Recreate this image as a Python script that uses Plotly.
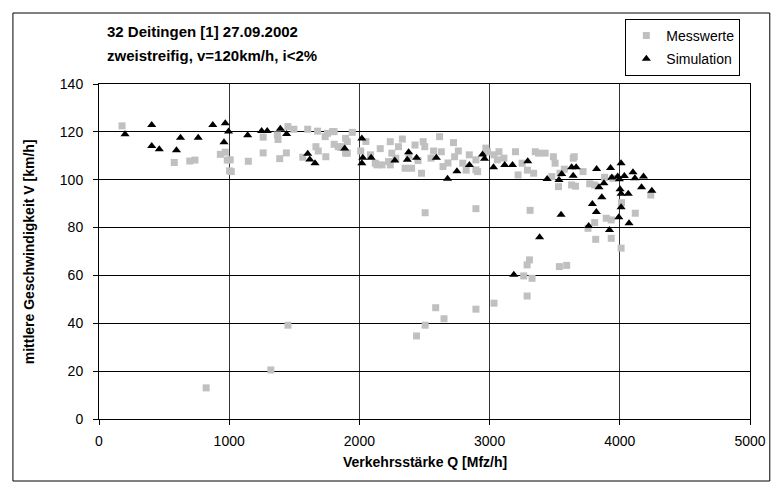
import plotly.graph_objects as go

# Messwerte (measured)
mess_q = [177, 578, 697, 737, 932, 970, 985, 1003, 1008, 1016, 1147, 1261, 1261, 1370, 1375, 1388,
          1439, 1451, 1497, 1565, 1603, 1666, 1679, 1684, 1737, 1742, 1755, 1793, 1806, 1806, 1837,
          1857, 1869, 1894, 1894, 1907, 1907, 1945, 2010, 2050, 2085, 2122, 2135, 2160, 2173, 2224,
          2237, 2237, 2249, 2280, 2300, 2330, 2351, 2380, 2401, 2427, 2450, 2477, 2490, 2502, 2550,
          2570, 2616, 2629, 2642, 2680, 2723, 2731, 2760, 2794, 2820, 2844, 2895, 2895, 2908, 2971,
          2984, 3034, 3060, 3072, 3110, 3199, 3219, 3250, 3290, 3338, 3351, 3376, 3427, 3478, 3490,
          3503, 3529, 3541, 3574, 3630, 3642, 3650, 3660, 3718, 3769, 3807, 3883, 3946, 4013, 4119,
          3896, 3934, 3807, 3756, 3815, 3934, 4010, 4238,
          823, 1320, 1451, 2439, 2505, 2586, 2650, 2895, 3034, 3288, 3262, 3326, 3288, 3306, 3536,
          3592, 2505, 2895, 3311]
mess_v = [122.5, 107.2, 107.8, 108.2, 110.6, 111.5, 108.2, 103.7, 108.3, 103.4, 107.7, 111.2, 117.8,
          118.7, 116.8, 108.8, 111.2, 122.2, 121.1, 109.4, 121.1, 113.8, 120.3, 112.0, 118.0, 109.6,
          119.4, 120.1, 114.8, 120.1, 113.8, 113.5, 113.8, 117.3, 111.1, 115.9, 111.1, 119.8, 112.0,
          116.0, 110.4, 106.9, 106.2, 113.0, 106.2, 107.6, 115.9, 106.2, 111.1, 109.0, 113.8, 117.0,
          104.8, 110.0, 104.8, 114.5, 108.0, 102.7, 115.9, 113.8, 109.0, 112.0, 118.0, 111.7, 105.5,
          107.0, 115.5, 109.6, 112.0, 106.9, 104.0, 110.4, 108.3, 104.1, 103.4, 113.2, 111.7, 110.4,
          108.3, 111.7, 109.0, 111.7, 102.0, 106.9, 104.0, 102.7, 111.7, 111.1, 111.1, 101.3, 109.6,
          106.9, 97.1, 102.7, 104.4, 97.8, 109.0, 109.6, 97.3, 103.4, 98.3, 97.8, 101.0, 100.6, 90.4,
          86.0, 83.9, 83.2, 82.1, 79.7, 75.1, 75.5, 71.4, 93.6,
          13.0, 20.5, 39.2, 34.7, 39.2, 46.5, 41.9, 45.9, 48.4, 51.4, 59.8, 58.8, 64.4, 66.5, 63.7,
          64.2, 86.2, 87.9, 87.2]

# Simulation
sim_q = [200, 405, 405, 463, 595, 626, 762, 874, 970, 995, 960, 1142, 1249, 1292, 1393, 1441, 1603,
         1619, 1659, 1887, 2019, 2026, 2019, 2090, 2272, 2378, 2368, 2439, 2591, 2677, 2749, 2845,
         2946, 2961, 3030, 3116, 3176, 3293, 3442, 3533, 3554, 3630, 3665, 3642, 3549, 3384, 3186,
         3822, 3929, 4010, 4101, 4182, 4116, 4167, 4246, 4035, 3984, 3939, 3997, 3878, 3840, 4002,
         4065, 4010, 3862, 3789, 3820, 4010, 3992, 3761, 3921, 4071]
sim_v = [119.0, 122.9, 114.1, 112.7, 112.3, 117.5, 117.5, 122.9, 123.6, 120.1, 115.7, 118.6, 120.4,
         120.4, 121.3, 119.1, 110.8, 108.5, 106.9, 113.0, 117.2, 109.2, 106.9, 109.2, 108.0, 111.5,
         108.3, 109.2, 109.2, 100.4, 103.5, 106.2, 110.5, 108.8, 105.2, 106.2, 106.2, 107.7, 100.3,
         99.9, 102.4, 105.2, 105.2, 101.7, 85.4, 76.0, 60.3, 104.5, 104.9, 106.9, 103.1, 101.3,
         100.6, 96.8, 95.4, 101.6, 101.3, 100.9, 100.2, 98.5, 96.8, 96.0, 94.1, 94.1, 92.7, 89.9,
         86.5, 88.5, 84.3, 80.7, 79.0, 81.8]

FONT = "Liberation Sans, Arial, sans-serif"
FS = 14
TFS = 15

fig = go.Figure()
fig.add_trace(go.Scatter(x=mess_q, y=mess_v, mode="markers", name="Messwerte",
                         legendgroup="a",
                         marker=dict(symbol="square", size=7, color="#c0c0c0", line=dict(width=0))))
fig.add_trace(go.Scatter(x=sim_q, y=sim_v, mode="markers", name="Simulation",
                         legendgroup="b",
                         marker=dict(symbol="triangle-up", size=8, color="black", line=dict(width=0))))

L, R, T, B = 99, 21, 84, 70
W, H = 778, 489
pw, ph = W - L - R, H - T - B

def px(x):
    return (x - L) / pw

def py(y):
    return (H - B - y) / ph

fig.update_layout(
    width=W, height=H,
    margin=dict(l=L, r=R, t=T, b=B),
    paper_bgcolor="white", plot_bgcolor="white",
    font=dict(family=FONT, size=FS, color="black"),
    showlegend=True,
    legend=dict(x=px(631), y=py(19), xanchor="left", yanchor="top",
                bordercolor="black", borderwidth=1, bgcolor="white",
                font=dict(size=FS), tracegroupgap=2, traceorder="grouped",
                itemwidth=30),
    xaxis=dict(range=[0, 5000], dtick=1000, tick0=0, showgrid=True, gridcolor="#333333",
               gridwidth=1, zeroline=False, showline=True, linecolor="black", mirror=True,
               ticks="outside", ticklen=5, tickcolor="black", tickfont=dict(size=FS),
               ticklabelstandoff=4),
    yaxis=dict(range=[0, 140], dtick=20, tick0=0, showgrid=True, gridcolor="black",
               gridwidth=1, zeroline=False, showline=True, linecolor="black", mirror=True,
               ticks="outside", ticklen=5, tickcolor="black", tickfont=dict(size=FS),
               ticklabelstandoff=7),
    shapes=[dict(type="rect", xref="paper", yref="paper",
                 x0=px(12), x1=px(777), y0=py(481), y1=py(13),
                 line=dict(color="black", width=1), fillcolor="rgba(0,0,0,0)", layer="below")],
    annotations=[
        dict(text="<b>32 Deitingen [1] 27.09.2002</b>", xref="paper", yref="paper",
             x=px(105), y=py(32), xanchor="left", yanchor="middle", showarrow=False,
             font=dict(size=TFS)),
        dict(text="<b>zweistreifig, v=120km/h, i<2%</b>", xref="paper", yref="paper",
             x=px(105), y=py(55), xanchor="left", yanchor="middle", showarrow=False,
             font=dict(size=TFS)),
        dict(text="<b>mittlere Geschwindigkeit V [km/h]</b>", xref="paper", yref="paper",
             x=px(28), y=0.5, xanchor="center", yanchor="middle", showarrow=False,
             textangle=-90, font=dict(size=FS)),
        dict(text="<b>Verkehrsstärke Q [Mfz/h]</b>", xref="paper", yref="paper",
             x=0.5, y=py(462), xanchor="center", yanchor="middle", showarrow=False,
             font=dict(size=FS)),
    ],
)

fig.write_html("out.html")
